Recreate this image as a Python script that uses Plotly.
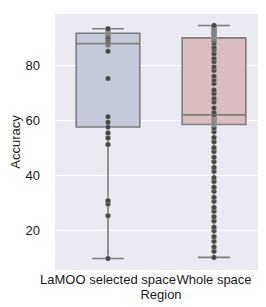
import plotly.graph_objects as go

categories = ["LaMOO selected space", "Whole space"]

lamoo_values = [9.7, 25.3, 29.6, 30.8, 51.3, 53.7, 55.5, 57.7, 59.4, 61.4,
                75.4, 85.3, 87.6, 87.9, 88.1, 88.6, 89.0, 89.6, 89.9, 90.5,
                91.3, 91.9, 92.1, 92.4, 92.6, 92.9, 93.1, 93.3, 93.5]

whole_values = [10.1, 12.3, 13.9, 16.0, 17.6, 19.8, 21.1, 23.4, 24.9, 26.9,
                28.3, 30.6, 32.0, 34.2, 35.7, 37.8, 39.2, 41.5, 42.9, 45.0,
                46.6, 48.7, 50.1, 52.3, 53.8, 55.9, 57.3,
                58.6, 58.8, 59.0, 59.3, 59.5, 59.7, 60.0, 60.2, 60.5, 60.7,
                60.9, 61.2, 61.4, 61.6, 61.8, 62.0, 62.1,
                63.0, 64.6, 66.8, 68.1, 69.9, 71.2, 73.5, 74.8, 76.2, 78.3,
                79.6, 81.5, 82.7, 84.4, 85.9, 86.8, 88.2, 89.3, 90.0,
                90.3, 90.6, 90.9, 91.2, 91.5, 91.8, 92.1, 92.4, 92.7, 93.0,
                93.3, 93.6, 93.9, 94.2, 94.5, 94.7]

# box statistics
q1_vals = [57.7, 58.6]
median_vals = [88.1, 62.1]
q3_vals = [91.9, 90.2]
lower_whisker = [9.7, 10.1]
upper_whisker = [93.5, 94.7]

y_ticks = [20, 40, 60, 80]

fill_colors = ["#c4cad9", "#dcbdbd"]
point_data = [lamoo_values, whole_values]

fig = go.Figure()
for i, cat in enumerate(categories):
    fig.add_trace(go.Box(
        x=[cat], q1=[q1_vals[i]], median=[median_vals[i]], q3=[q3_vals[i]],
        lowerfence=[lower_whisker[i]], upperfence=[upper_whisker[i]],
        fillcolor=fill_colors[i], line=dict(color="#7c7c7c", width=1.6),
        width=0.6, whiskerwidth=0.5, boxpoints=False, showlegend=False,
        hoverinfo="skip"))
for i, cat in enumerate(categories):
    fig.add_trace(go.Scatter(
        x=[cat] * len(point_data[i]), y=point_data[i], mode="markers",
        marker=dict(color="#474747", size=5.5,
                    line=dict(color="rgba(255,255,255,0.6)", width=0.5)),
        showlegend=False, hoverinfo="skip"))

font = dict(family="Liberation Sans, Arial, sans-serif", size=13, color="#1a1a1a")
fig.update_layout(
    width=266, height=307,
    margin=dict(l=47, r=7, t=6, b=45),
    paper_bgcolor="white", plot_bgcolor="#eaeaf2",
    font=font, boxmode="overlay",
    xaxis=dict(type="category", categoryarray=categories, categoryorder="array",
               range=[-0.5, 1.5], showgrid=False, zeroline=False, showline=False,
               ticks="", ticklabelstandoff=0, tickangle=0, tickfont=font,
               title=dict(text="Region", font=font, standoff=0)),
    yaxis=dict(range=[5.5, 98.9], tickvals=y_ticks, showgrid=True,
               gridcolor="white", gridwidth=1, zeroline=False, showline=False,
               ticks="", ticklabelstandoff=14, tickfont=font,
               title=dict(text="Accuracy", font=font, standoff=3)),
)
fig.write_html("out.html")
